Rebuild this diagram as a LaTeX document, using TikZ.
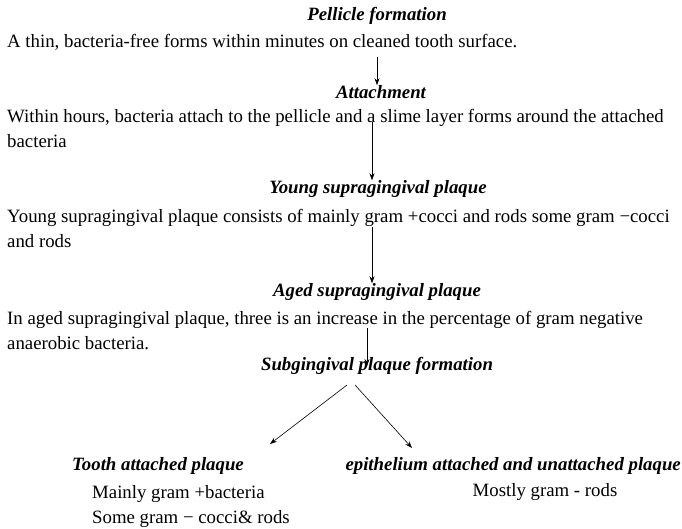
\documentclass[tikz,border=0pt]{standalone}
\usepackage{fontspec}
\setmainfont{Liberation Serif}
\usetikzlibrary{arrows.meta}
\begin{document}
\begin{tikzpicture}[x=1pt,y=-1pt,
  txt/.style={inner sep=0pt,font=\fontsize{18.8}{25.5}\selectfont,align=left},
  head/.style={inner sep=0pt,font=\fontsize{18.8}{25.5}\selectfont\bfseries\itshape},
  arr/.style={-{Stealth[length=7pt,width=5pt]},line width=0.6pt}]
\useasboundingbox (0,0) rectangle (682,529);
% headings
\node[head] (h1) at (377,16) {Pellicle formation};
\node[head] (h2) at (381,92) {Attachment};
\node[head] (h3) at (378,189) {Young supragingival plaque};
\node[head] (h4) at (377,292) {Aged supragingival plaque};
\node[head] (h5) at (377,366) {Subgingival plaque formation};
\node[head] (h6) at (158,466) {Tooth attached plaque};
\node[head,anchor=east] (h7) at (681,466) {epithelium attached and unattached plaque};
% body texts
\node[txt,anchor=west] (b1) at (7,42) {A thin, bacteria-free forms within minutes on cleaned tooth surface.};
\node[txt,anchor=north west] (b2) at (7,109) {Within hours, bacteria attach to the pellicle and a slime layer forms around the attached\\ bacteria};
\node[txt,anchor=north west] (b3) at (7,209) {Young supragingival plaque consists of mainly gram +cocci and rods some gram −cocci\\ and rods};
\node[txt,anchor=north west] (b4) at (7,311) {In aged supragingival plaque, three is an increase in the percentage of gram negative\\ anaerobic bacteria.};
\node[txt,anchor=north west] (b6) at (92,485) {Mainly gram +bacteria\\ Some gram − cocci\& rods};
\node[txt] (b7) at (545,492) {Mostly gram - rods};
% arrow points
\coordinate (s1) at (377,57);
\coordinate (s2) at (372,122);
\coordinate (s3) at (372,227);
\coordinate (s4) at (367,328);
\coordinate (s5) at (347,385);
\coordinate (s6) at (355,385);
\coordinate (e5) at (270,444);
\coordinate (e6) at (412,448);
% connectors
\draw[arr] (s1) -- (s1 |- h2.north);
\draw[arr] (s2) -- (s2 |- h3.north);
\draw[arr] (s3) -- (s3 |- h4.north);
\draw[arr] (s4) -- (s4 |- h5.center);
\draw[arr] (s5) -- (e5);
\draw[arr] (s6) -- (e6);
\end{tikzpicture}
\end{document}
